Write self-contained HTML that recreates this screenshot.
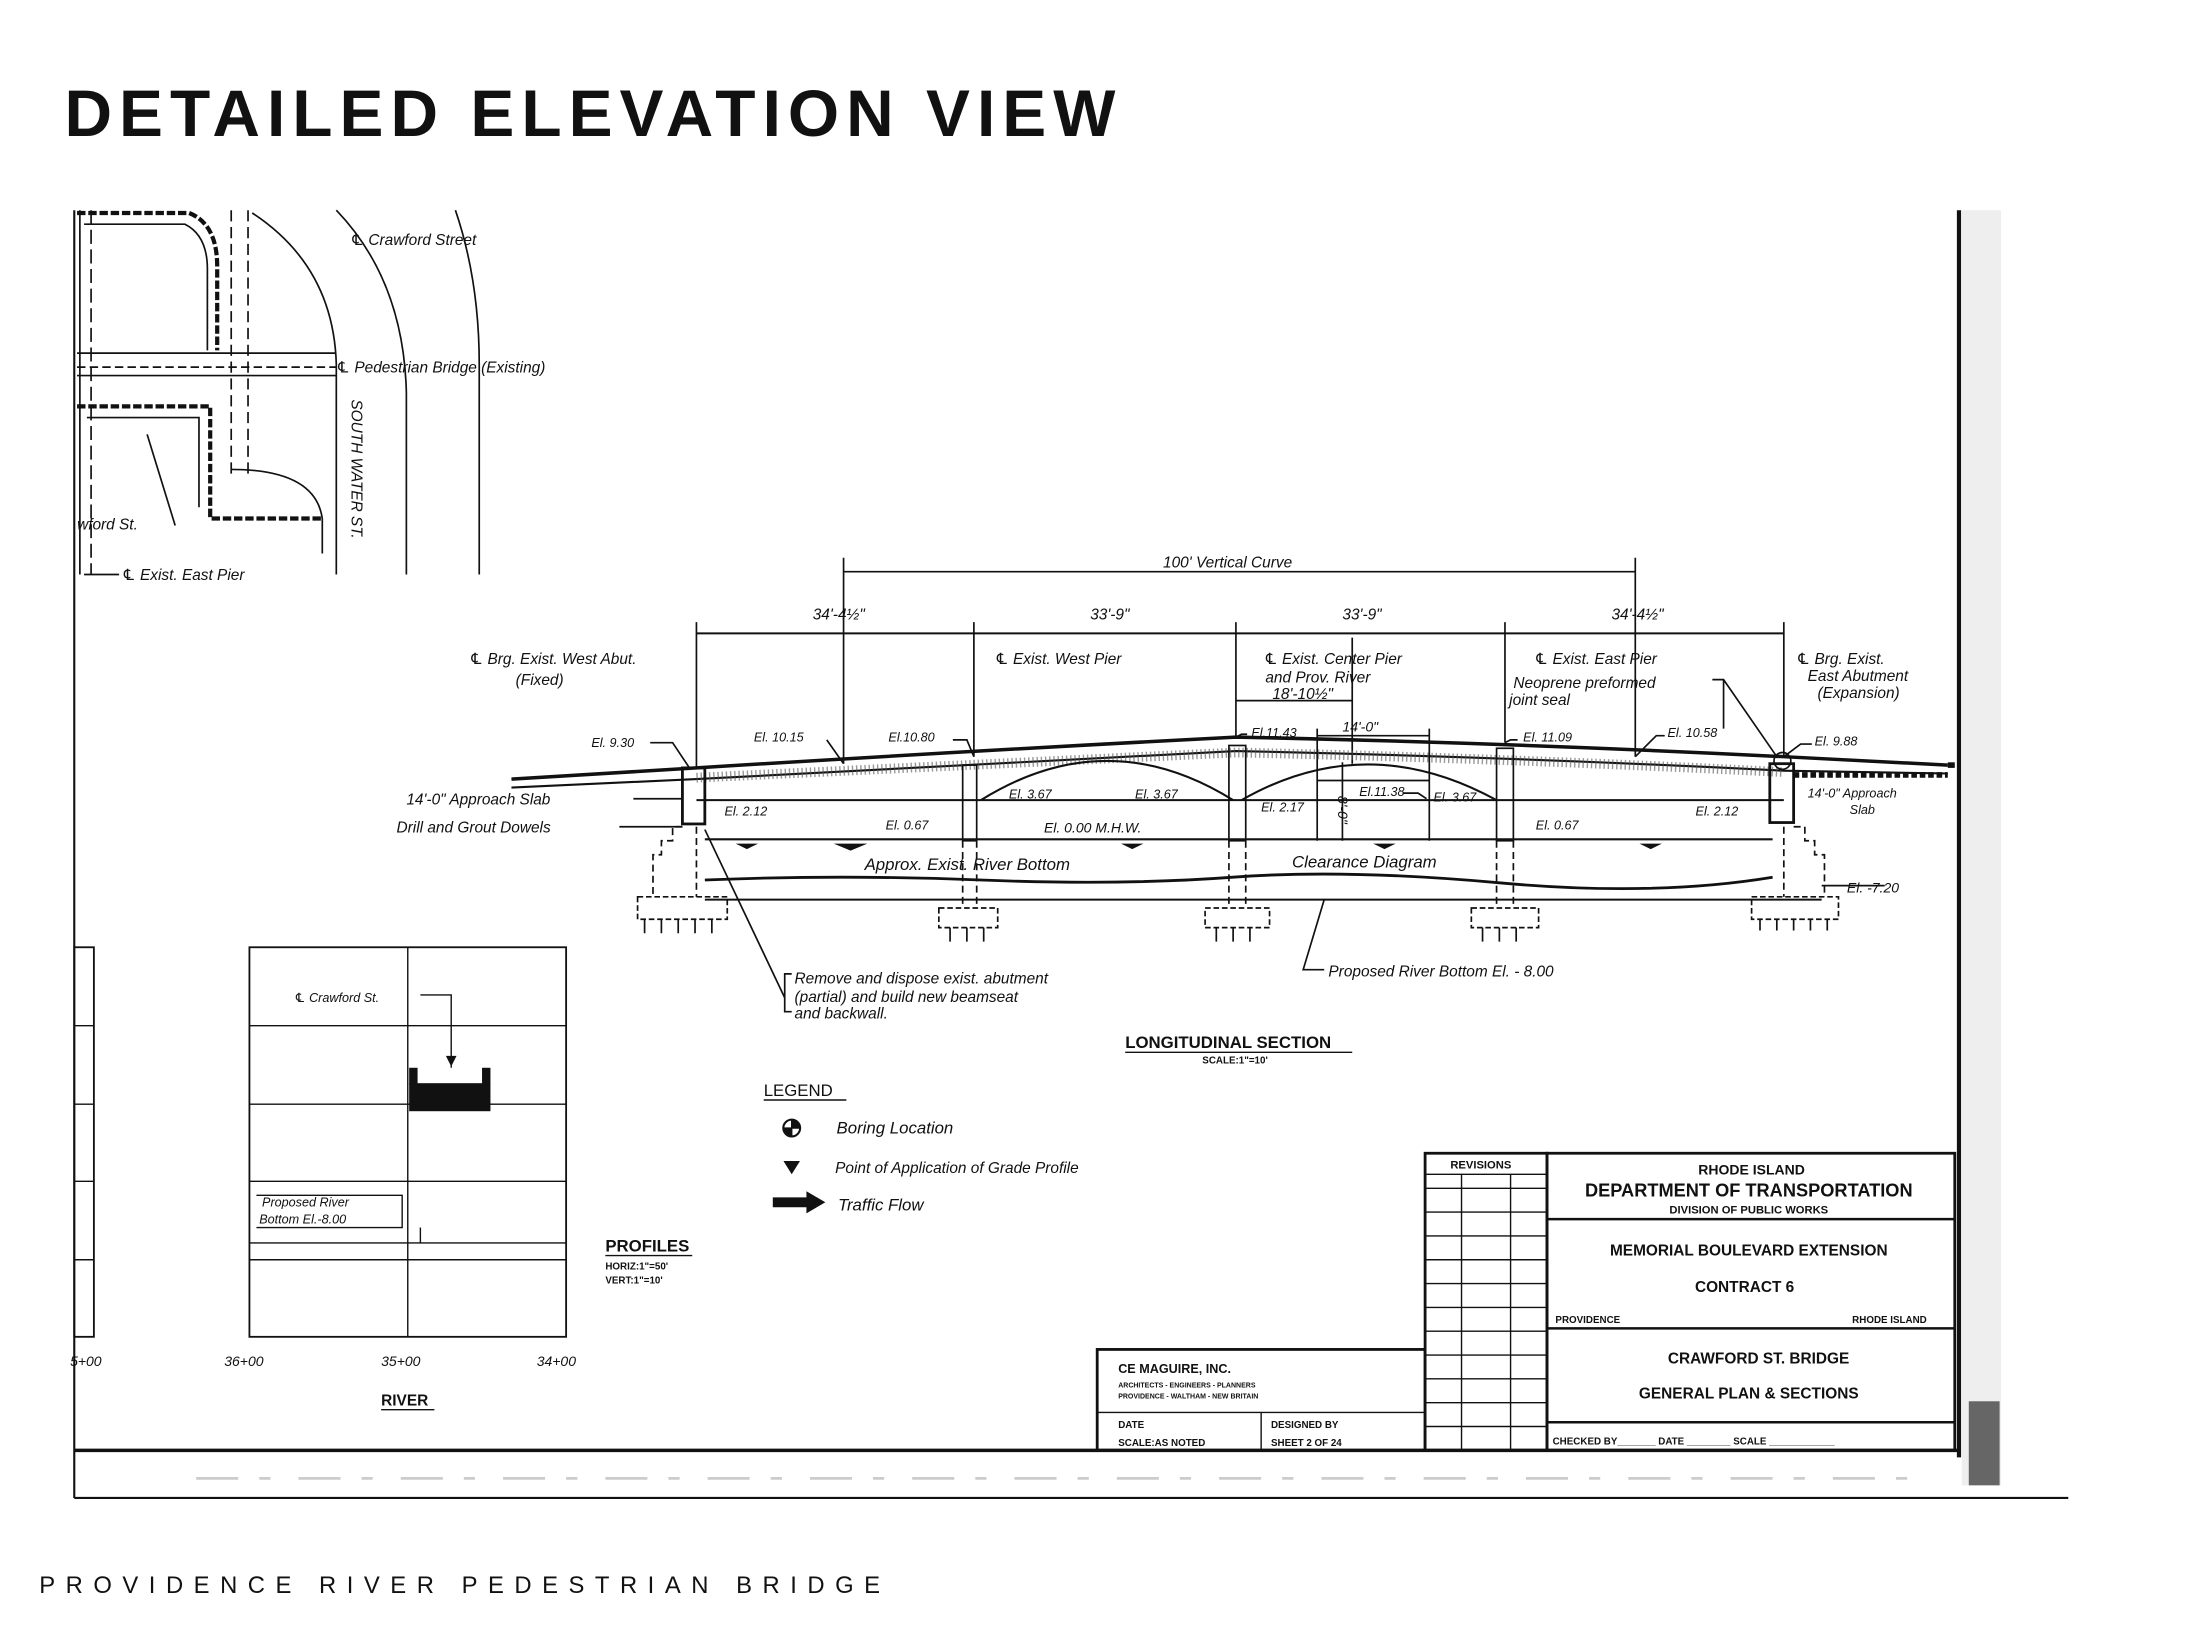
<!DOCTYPE html>
<html><head><meta charset="utf-8"><style>
html,body{margin:0;padding:0;background:#fff;}
svg{display:block;}
text{font-family:"Liberation Sans","DejaVu Sans",sans-serif;fill:#111;}
.h{font-style:italic;font-size:11px;}
.b{font-weight:bold;font-family:"Liberation Sans Narrow","Liberation Sans",sans-serif;}
</style></head><body>
<svg width="2200" height="1650" viewBox="0 0 1570 1177.5" xmlns="http://www.w3.org/2000/svg">
<text x="46" y="97" font-size="47" font-weight="bold" font-family="Liberation Sans Narrow, Liberation Sans, sans-serif" textLength="750" lengthAdjust="spacing">DETAILED ELEVATION VIEW</text>
<text x="28" y="1137" font-size="17" textLength="600" lengthAdjust="spacing">PROVIDENCE RIVER PEDESTRIAN BRIDGE</text>

<g stroke="#111" fill="none" stroke-width="1.2">
<!-- frame -->
<line x1="53" y1="150" x2="53" y2="1069" stroke-width="1.5"/>
<line x1="53" y1="1069" x2="1476" y2="1069" stroke-width="1.5"/>
<line x1="1398" y1="150" x2="1398" y2="1040" stroke-width="3"/>
<line x1="53" y1="1035" x2="1398" y2="1035" stroke-width="2.5"/>
<rect x="1400" y="150" width="28" height="910" fill="#ddd" stroke="none" opacity="0.5"/>
<rect x="1405" y="1000" width="22" height="60" fill="#666" stroke="none"/>
<line x1="140" y1="1055" x2="1380" y2="1055" stroke="#ccc" stroke-width="2" stroke-dasharray="30 15 8 20"/>

<!-- top-left plan -->
<path d="M55 152 H135 Q155 160 155 190 V250" stroke-width="3" stroke-dasharray="6 2"/>
<path d="M60 160 H132 Q148 168 148 192 V250"/>
<line x1="55" y1="252" x2="240" y2="252"/>
<line x1="55" y1="268" x2="240" y2="268"/>
<line x1="55" y1="262" x2="240" y2="262" stroke-dasharray="6 3"/>
<path d="M55 290 H150 V370 H230" stroke-width="3" stroke-dasharray="6 2"/>
<path d="M62 298 H142 V362" />
<path d="M165 335 Q225 335 230 370 V395"/>
<line x1="165" y1="150" x2="165" y2="340" stroke-dasharray="8 4"/>
<line x1="177" y1="150" x2="177" y2="340" stroke-dasharray="8 4"/>
<path d="M180 152 Q238 190 240 260 V410"/>
<path d="M240 150 Q288 200 290 280 V410"/>
<path d="M325 150 Q342 200 342 260 V410"/>
<line x1="57" y1="150" x2="57" y2="410"/>
<line x1="65" y1="150" x2="65" y2="410" stroke-dasharray="10 4"/>
<line x1="105" y1="310" x2="125" y2="375"/>
<line x1="60" y1="410" x2="85" y2="410"/>

<!-- dims -->
<line x1="602" y1="408" x2="1167" y2="408"/>
<line x1="602" y1="398" x2="602" y2="545"/>
<line x1="1167" y1="398" x2="1167" y2="540"/>
<line x1="497" y1="452" x2="1273" y2="452" stroke-width="1.5"/>
<line x1="497" y1="444" x2="497" y2="548"/>
<line x1="695" y1="444" x2="695" y2="540"/>
<line x1="882" y1="444" x2="882" y2="526"/>
<line x1="1074" y1="444" x2="1074" y2="530"/>
<line x1="1273" y1="444" x2="1273" y2="540"/>
<line x1="882" y1="500" x2="965" y2="500"/>
<line x1="965" y1="455" x2="965" y2="545"/>
<line x1="940" y1="525" x2="1020" y2="525"/>
<line x1="940" y1="520" x2="940" y2="600"/>
<line x1="1020" y1="520" x2="1020" y2="600"/>
<line x1="958" y1="544" x2="958" y2="600"/>

<!-- deck -->
<path d="M365 556 L497 548 Q690 536 882 526 Q1074 530 1273 540 L1390 546" stroke-width="2.5"/>
<path d="M365 562 L497 556 Q690 546 882 536 Q1074 540 1273 550 L1390 552" stroke-width="1.5"/>
<path d="M497 555 Q690 546 882 537 Q1074 541 1273 551" stroke="#555" stroke-width="7" stroke-dasharray="1 2" opacity="0.6"/>
<line x1="497" y1="571" x2="1273" y2="571" stroke-width="1.5"/>
<path d="M700 571 Q790 515 880 571" stroke-width="1.5"/>
<path d="M886 571 Q975 520 1068 571" stroke-width="1.5"/>
<line x1="940" y1="557" x2="1020" y2="557"/>
<!-- piers -->
<rect x="687" y="546" width="10" height="54"/>
<rect x="877" y="532" width="12" height="68"/>
<rect x="1068" y="534" width="12" height="66"/>
<rect x="487" y="548" width="16" height="40" stroke-width="2"/>
<rect x="1263" y="545" width="17" height="42" stroke-width="2"/>
<g stroke-dasharray="5 3">
<line x1="687" y1="600" x2="687" y2="645"/><line x1="697" y1="600" x2="697" y2="645"/>
<line x1="877" y1="600" x2="877" y2="645"/><line x1="889" y1="600" x2="889" y2="645"/>
<line x1="1068" y1="600" x2="1068" y2="645"/><line x1="1080" y1="600" x2="1080" y2="645"/>
<line x1="497" y1="590" x2="497" y2="640"/><line x1="1273" y1="590" x2="1273" y2="640"/>
</g>
<!-- water lines -->
<line x1="503" y1="599" x2="1265" y2="599" stroke-width="1.5"/>
<path d="M503 628 Q600 624 700 628 T880 626 T1070 630 T1265 626" stroke-width="2"/>
<line x1="503" y1="642" x2="1300" y2="642" stroke-width="1.5"/>
<line x1="1300" y1="632" x2="1345" y2="632"/>
<!-- abutment steps -->
<path d="M487 590 H480 V600 H472 V610 H466 V640" stroke-dasharray="5 3"/>
<path d="M1280 590 H1288 V600 H1295 V610 H1302 V640" stroke-dasharray="5 3"/>
<!-- footings -->
<g stroke-dasharray="4 2">
<rect x="455" y="640" width="64" height="16"/><rect x="670" y="648" width="42" height="14"/>
<rect x="860" y="648" width="46" height="14"/><rect x="1050" y="648" width="48" height="14"/>
<rect x="1250" y="640" width="62" height="16"/>
</g>
<path d="M460 656 v10 M472 656 v10 M484 656 v10 M496 656 v10 M508 656 v10 M678 662 v10 M690 662 v10 M702 662 v10 M868 662 v10 M880 662 v10 M892 662 v10 M1058 662 v10 M1070 662 v10 M1082 662 v10 M1256 656 v8 M1268 656 v8 M1280 656 v8 M1292 656 v8 M1304 656 v8"/>
<line x1="503" y1="592" x2="560" y2="712"/>
<path d="M565 695 H560 V722 H565"/>
<path d="M945 642 L930 692 H945"/>
<!-- leaders -->
<path d="M464 530 H480 L492 548 M590 528 L602 545 M680 528 H690 L695 540 M890 524 H886 L882 526 M1083 528 H1078 L1074 530 M1188 525 H1182 L1167 540 M1293 531 H1285 L1273 540 M452 570 H487 M442 590 H487 M1001 566 H1012 L1018 570"/>
<path d="M1230 485 V520 M1222 485 H1230 L1268 540"/>
<circle cx="1272" cy="543" r="6"/>
<path d="M1390 546 H1395" stroke-width="4"/>
<path d="M1280 553 H1390" stroke-width="4" stroke-dasharray="4 2"/>
</g>

<g fill="#111">
<path d="M525 602 h16 l-8 4z M595 602 h24 l-12 5z M800 602 h16 l-8 4z M980 602 h16 l-8 4z M1170 602 h16 l-8 4z"/>
<rect x="292" y="773" width="58" height="20"/>
<rect x="292" y="762" width="6" height="12"/><rect x="344" y="762" width="6" height="12"/>
</g>

<g class="h">
<text x="250" y="175">℄ Crawford Street</text>
<text x="240" y="266">℄ Pedestrian Bridge (Existing)</text>
<text transform="translate(251,285) rotate(90)">SOUTH WATER ST.</text>
<text x="55" y="378">wford St.</text>
<text x="87" y="414">℄ Exist. East Pier</text>
<text x="830" y="405" text-anchor="start">100' Vertical Curve</text>
<text x="580" y="442">34'-4½"</text><text x="778" y="442">33'-9"</text>
<text x="958" y="442">33'-9"</text><text x="1150" y="442">34'-4½"</text>
<text x="335" y="474">℄ Brg. Exist. West Abut.</text><text x="368" y="489">(Fixed)</text>
<text x="710" y="474">℄ Exist. West Pier</text>
<text x="902" y="474">℄ Exist. Center Pier</text><text x="903" y="487">and Prov. River</text>
<text x="908" y="499">18'-10½"</text>
<text x="1095" y="474">℄ Exist. East Pier</text>
<text x="1080" y="491">Neoprene preformed</text><text x="1077" y="503">joint seal</text>
<text x="1282" y="474">℄ Brg. Exist.</text><text x="1290" y="486">East Abutment</text><text x="1297" y="498">(Expansion)</text>
<text x="422" y="533" font-size="9">El. 9.30</text>
<text x="538" y="529" font-size="9">El. 10.15</text>
<text x="634" y="529" font-size="9">El.10.80</text>
<text x="893" y="526" font-size="9">El.11.43</text>
<text x="958" y="522" font-size="10">14'-0"</text>
<text x="1087" y="529" font-size="9">El. 11.09</text>
<text x="1190" y="526" font-size="9">El. 10.58</text>
<text x="1295" y="532" font-size="9">El. 9.88</text>
<text x="720" y="570" font-size="9">El. 3.67</text>
<text x="810" y="570" font-size="9">El. 3.67</text>
<text x="970" y="568" font-size="9">El.11.38</text>
<text x="1023" y="572" font-size="9">El. 3.67</text>
<text x="517" y="582" font-size="9">El. 2.12</text>
<text x="632" y="592" font-size="9">El. 0.67</text>
<text x="745" y="594" font-size="10">El. 0.00 M.H.W.</text>
<text x="900" y="579" font-size="9">El. 2.17</text>
<text transform="translate(955,568) rotate(90)" font-size="10">8'-0"</text>
<text x="1096" y="592" font-size="9">El. 0.67</text>
<text x="1210" y="582" font-size="9">El. 2.12</text>
<text x="290" y="574">14'-0" Approach Slab</text>
<text x="283" y="594">Drill and Grout Dowels</text>
<text x="1290" y="569" font-size="9">14'-0" Approach</text><text x="1320" y="581" font-size="9">Slab</text>
<text x="617" y="621" font-size="12">Approx. Exist. River Bottom</text>
<text x="922" y="619" font-size="12">Clearance Diagram</text>
<text x="1318" y="637" font-size="10">El. -7.20</text>
<text x="948" y="697">Proposed River Bottom  El. - 8.00</text>
<text x="567" y="702">Remove and dispose exist. abutment</text>
<text x="567" y="715">(partial) and build new beamseat</text>
<text x="567" y="727">and backwall.</text>
<text x="597" y="809" font-size="12">Boring Location</text>
<text x="596" y="837" font-size="11">Point of Application of Grade Profile</text>
<text x="598" y="864" font-size="12">Traffic Flow</text>
<text x="210" y="715" font-size="9">℄ Crawford St.</text>
<text x="187" y="861" font-size="9">Proposed River</text>
<text x="185" y="873" font-size="9">Bottom El.-8.00</text>
<text x="50" y="975" font-size="10">5+00</text><text x="160" y="975" font-size="10">36+00</text>
<text x="272" y="975" font-size="10">35+00</text><text x="383" y="975" font-size="10">34+00</text>
</g>

<g class="b">
<text x="803" y="748" font-size="12">LONGITUDINAL  SECTION</text>
<text x="858" y="759" font-size="7">SCALE:1"=10'</text>
<text x="545" y="782" font-size="12" font-weight="normal">LEGEND</text>
<text x="432" y="893" font-size="12">PROFILES</text>
<text x="432" y="906" font-size="7">HORIZ:1"=50'</text>
<text x="432" y="916" font-size="7">VERT:1"=10'</text>
<text x="272" y="1003" font-size="11">RIVER</text>
<text x="1035" y="834" font-size="8">REVISIONS</text>
<text x="1250" y="838" font-size="10" text-anchor="middle">RHODE ISLAND</text>
<text x="1248" y="854" font-size="13" text-anchor="middle">DEPARTMENT  OF  TRANSPORTATION</text>
<text x="1248" y="866" font-size="8" text-anchor="middle">DIVISION  OF  PUBLIC  WORKS</text>
<text x="1248" y="896" font-size="11" text-anchor="middle">MEMORIAL  BOULEVARD  EXTENSION</text>
<text x="1245" y="922" font-size="11" text-anchor="middle">CONTRACT  6</text>
<text x="1110" y="944" font-size="7">PROVIDENCE</text>
<text x="1375" y="944" font-size="7" text-anchor="end">RHODE  ISLAND</text>
<text x="1255" y="973" font-size="11" text-anchor="middle">CRAWFORD  ST.  BRIDGE</text>
<text x="1248" y="998" font-size="11" text-anchor="middle">GENERAL   PLAN  &amp;  SECTIONS</text>
<text x="1108" y="1031" font-size="7">CHECKED BY_______  DATE ________  SCALE ____________</text>
<text x="798" y="980" font-size="9">CE MAGUIRE, INC.</text>
<text x="798" y="990" font-size="5">ARCHITECTS - ENGINEERS - PLANNERS</text>
<text x="798" y="998" font-size="5">PROVIDENCE - WALTHAM - NEW BRITAIN</text>
<text x="798" y="1019" font-size="7">DATE</text><text x="907" y="1019" font-size="7">DESIGNED BY</text>
<text x="798" y="1032" font-size="7">SCALE:AS  NOTED</text><text x="907" y="1032" font-size="7">SHEET 2 OF 24</text>
</g>

<g stroke="#111" fill="none">
<line x1="803" y1="751" x2="965" y2="751"/>
<line x1="545" y1="785" x2="604" y2="785"/>
<line x1="432" y1="896" x2="494" y2="896"/>
<line x1="272" y1="1006" x2="310" y2="1006"/>
<circle cx="565" cy="805" r="6" stroke-width="1.5"/>
<path d="M565 799 A6 6 0 0 1 571 805 H565Z M565 811 A6 6 0 0 1 559 805 H565Z" fill="#111"/>
<path d="M560 829 h10 l-5 8z" fill="#111"/>
<path d="M552 855 h24 v-4 l12 7 l-12 7 v-4 h-24z" fill="#111"/>
<!-- profile grid -->
<rect x="178" y="676" width="226" height="278" stroke-width="1.3"/>
<path d="M291 676 V954 M178 732 H404 M178 788 H404 M178 843 H404 M178 899 H404 M178 887 H404"/>
<path d="M300 710 H322 V762"/>
<path d="M322 760 l-3 -6 h6z" fill="#111"/>
<path d="M183 853 H287 V876 H183 M300 876 V887"/>
<rect x="53" y="676" width="14" height="278" stroke-width="1.3"/>
<path d="M53 732 H67 M53 788 H67 M53 843 H67 M53 899 H67"/>
<!-- title block -->
<rect x="1017" y="823" width="87" height="212" stroke-width="2"/>
<path d="M1017 838 H1104 M1017 848 H1104 M1043 838 V1035 M1078 838 V1035" />
<path d="M1017 865 H1104 M1017 882 H1104 M1017 899 H1104 M1017 916 H1104 M1017 933 H1104 M1017 950 H1104 M1017 967 H1104 M1017 984 H1104 M1017 1001 H1104 M1017 1018 H1104"/>
<rect x="1104" y="823" width="291" height="212" stroke-width="2"/>
<path d="M1104 870 H1395 M1104 948 H1395 M1104 1015 H1395" stroke-width="1.8"/>
<rect x="783" y="963" width="234" height="72" stroke-width="2"/>
<path d="M783 1008 H1017 M900 1008 V1035"/>
</g>
</svg>
</body></html>
